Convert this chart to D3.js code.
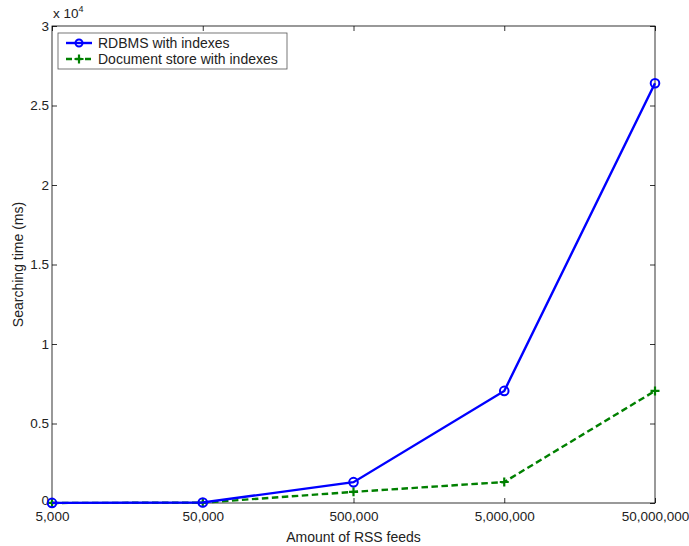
<!DOCTYPE html>
<html>
<head>
<meta charset="utf-8">
<script src="https://cdn.jsdelivr.net/npm/d3@7"></script>
<style>
body { margin: 0; background: #fff; }
text { font-family: "Liberation Sans", Arial, sans-serif; }
</style>
</head>
<body>
<script>
// data
const feeds = [5000, 50000, 500000, 5000000, 50000000];
const feedLabels = ["5,000", "50,000", "500,000", "5,000,000", "50,000,000"];
const rdbms = [5, 30, 1310, 7050, 26400];
const docStore = [3, 20, 700, 1320, 7050];
const yTicks = [0, 5000, 10000, 15000, 20000, 25000, 30000];

const W = 689, H = 546;
const margin = {left: 52, right: 34, top: 26, bottom: 43};
const xMax = W - margin.left - margin.right;
const yMax = H - margin.top - margin.bottom;

const svg = d3.select("body").append("svg")
  .attr("width", W).attr("height", H);

const g = svg.append("g")
  .attr("transform", "translate(" + margin.left + "," + margin.top + ")");

const x = d3.scaleLog().domain([5000, 50000000]).range([0, xMax]);
const y = d3.scaleLinear().domain([0, 30000]).range([yMax, 0]);

// box
g.append("rect")
  .attr("width", xMax).attr("height", yMax)
  .attr("fill", "none").attr("stroke", "#000").attr("stroke-width", 0.8);

// ticks pointing inward, all four sides
const axFmt = d => d3.format("~g")(d / 10000);
function styleAxis(sel) {
  sel.select(".domain").remove();
  sel.selectAll("line").attr("stroke", "#000").attr("stroke-width", 0.8);
  sel.selectAll("text").attr("fill", "#222").style("font-size", "13.5px");
}

g.append("g").attr("transform", "translate(0," + yMax + ")")
  .call(d3.axisBottom(x).tickValues(feeds).tickFormat((d, i) => feedLabels[i])
    .tickSizeInner(-5).tickSizeOuter(0).tickPadding(8))
  .call(styleAxis);

g.append("g")
  .call(d3.axisTop(x).tickValues(feeds).tickFormat("")
    .tickSizeInner(-5).tickSizeOuter(0))
  .call(styleAxis);

const yAx = g.append("g")
  .call(d3.axisLeft(y).tickValues(yTicks).tickFormat(axFmt)
    .tickSizeInner(-5).tickSizeOuter(0).tickPadding(3))
  .call(styleAxis);
// nudge the "0" so it sits clear of "5,000"
yAx.selectAll(".tick text").filter(d => d === 0).attr("dy", "0.1em");

g.append("g").attr("transform", "translate(" + xMax + ",0)")
  .call(d3.axisRight(y).tickValues(yTicks).tickFormat("")
    .tickSizeInner(-5).tickSizeOuter(0))
  .call(styleAxis);

// multiplier
const mult = g.append("text").attr("x", 1).attr("y", -8)
  .attr("fill", "#222").style("font-size", "13.5px");
mult.append("tspan").text("x 10");
mult.append("tspan").attr("dy", -6).style("font-size", "9px").text("4");

// axis labels
g.append("text")
  .attr("x", xMax / 2).attr("y", yMax + 39)
  .attr("text-anchor", "middle").attr("fill", "#222").style("font-size", "14px")
  .text("Amount of RSS feeds");

g.append("text")
  .attr("transform", "translate(-29," + (yMax / 2) + ") rotate(-90)")
  .attr("text-anchor", "middle").attr("fill", "#222").style("font-size", "14px")
  .text("Searching time (ms)");

const line = d3.line().x((d, i) => x(feeds[i])).y(d => y(d));

// document store (green dashed, plus markers)
g.append("path").datum(docStore)
  .attr("fill", "none").attr("stroke", "#008000").attr("stroke-width", 2.4)
  .attr("stroke-dasharray", "6.5,3.5")
  .attr("d", line);

g.selectAll(".pt2").data(docStore).enter()
  .append("path")
  .attr("d", "M-4.5,0H4.5M0,-4.5V4.5")
  .attr("transform", (d, i) => "translate(" + x(feeds[i]) + "," + y(d) + ")")
  .attr("stroke", "#008000").attr("stroke-width", 2.2).attr("fill", "none");

// RDBMS (blue solid, circles)
g.append("path").datum(rdbms)
  .attr("fill", "none").attr("stroke", "#0000ff").attr("stroke-width", 2.4)
  .attr("d", line);

g.selectAll(".pt1").data(rdbms).enter()
  .append("circle")
  .attr("cx", (d, i) => x(feeds[i])).attr("cy", d => y(d))
  .attr("r", 4.3).attr("fill", "none")
  .attr("stroke", "#0000ff").attr("stroke-width", 2);

// legend
const lg = g.append("g").attr("transform", "translate(6,7)");
lg.append("rect").attr("width", 229).attr("height", 36)
  .attr("fill", "#fff").attr("stroke", "#555").attr("stroke-width", 0.8);

const entries = [
  {name: "RDBMS with indexes", color: "#0000ff", dash: null, mark: "o"},
  {name: "Document store with indexes", color: "#008000", dash: "6,3.5", mark: "+"}
];
entries.forEach((e, i) => {
  const yy = 10 + i * 16;
  lg.append("line").attr("x1", 8).attr("x2", 34).attr("y1", yy).attr("y2", yy)
    .attr("stroke", e.color).attr("stroke-width", 2.4)
    .attr("stroke-dasharray", e.dash);
  if (e.mark === "o") {
    lg.append("circle").attr("cx", 21).attr("cy", yy).attr("r", 3.5)
      .attr("fill", "none").attr("stroke", e.color).attr("stroke-width", 2);
  } else {
    lg.append("path").attr("d", "M16.5,"+yy+"H25.5M21,"+(yy-4.5)+"V"+(yy+4.5))
      .attr("stroke", e.color).attr("stroke-width", 2.2);
  }
  lg.append("text").attr("x", 40).attr("y", yy + 5)
    .attr("fill", "#222").style("font-size", "14px").text(e.name);
});
</script>
</body>
</html>
